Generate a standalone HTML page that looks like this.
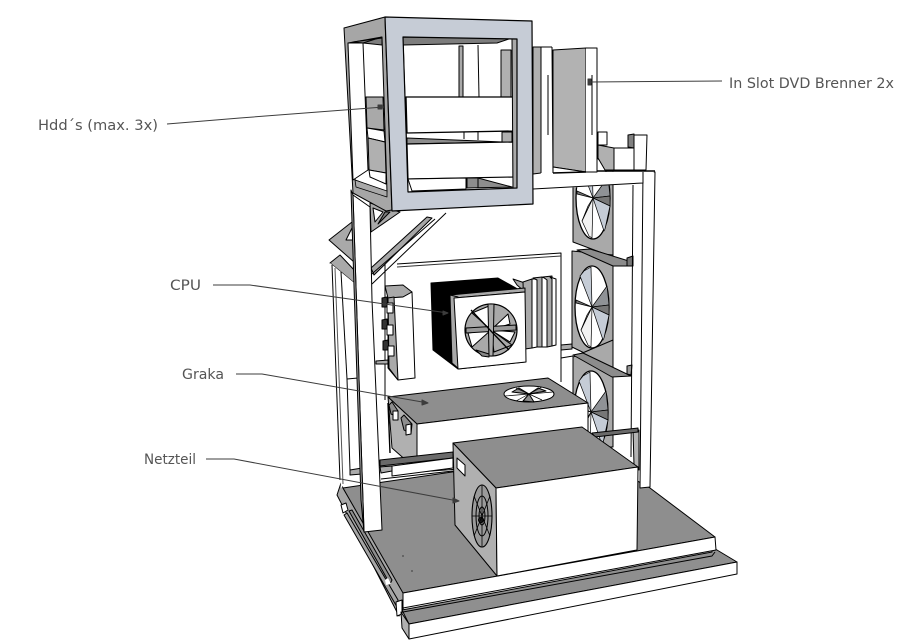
<!DOCTYPE html>
<html><head><meta charset="utf-8"><style>
html,body{margin:0;padding:0;background:#fff}
svg{display:block}
text{font-family:"DejaVu Sans","Liberation Sans",sans-serif;font-size:14px;fill:#555;font-weight:normal}
</style></head><body>
<svg width="911" height="640" viewBox="0 0 911 640" xmlns="http://www.w3.org/2000/svg">
<defs>
<g id="fan" stroke="#000" stroke-width="1" stroke-linejoin="round">
<ellipse cx="0" cy="0" rx="17" ry="41" fill="#fff" stroke-width="1.3"/>
<path d="M0 0L-12 -31L-8 -36L-1 -40Z" fill="#c5ccd6" stroke-width=".7"/>
<path d="M0 0L15 -21L17 -2Z" fill="#8f9296" stroke-width=".7"/>
<path d="M0 0L17 -2L17 8Z" fill="#777" stroke-width=".7"/>
<path d="M0 0L17 8L12 31L11 33Z" fill="#c5ccd6" stroke-width=".7"/>
<path d="M0 0L-11 23L-4 38L-1 40Z" fill="#f2f2f2" stroke-width=".7"/>
<path d="M0 0L-11 23L-5 8Z" fill="#9a9a9a" stroke-width=".7"/>
<path d="M0 0L-16 -7L-16 -4Z" fill="#777" stroke-width=".7"/>
</g>
</defs>
<rect width="911" height="640" fill="#fff"/>

<g stroke="#000" stroke-width="1" stroke-linejoin="round">
<!-- left rail -->
<path d="M337 495L341 483L343 488L404 592L404 607L399 616Z" fill="#a6a6a6"/>
<path d="M344 515L347 513L398 600L397 607Z" fill="#a6a6a6"/>
<path d="M341 505L346 503L348 510L343 513Z" fill="#fff"/>
<path d="M349 511L352 510L392 580L390 584Z" fill="#8e8e8e"/>
<path d="M385 580L388 578L391 584L386 585Z" fill="#fff" stroke="none"/>
<path d="M396 602L402 600L402 614L397 616Z" fill="#fff"/>
<!-- base -->
<path d="M402 610L712 552L712 547L737 562L409 624Z" fill="#8f8f8f"/>
<path d="M401 612L409 624L409 639L402 628Z" fill="#b0b0b0"/>
<path d="M409 624L737 562L737 574L409 639Z" fill="#fff"/>
<path d="M403 612L712 556L715 552" fill="none"/>
<path d="M343 488L452 472L582 450L650 488L715 537L403 593Z" fill="#8e8e8e"/>
<path d="M403 593L715 537L716 550L403 608Z" fill="#fff"/>
<circle cx="403" cy="556" r=".6" fill="#000" stroke="none"/>
<circle cx="412" cy="571" r=".6" fill="#000" stroke="none"/>

<!-- back board -->
<path d="M397 264L561 253L561 382" fill="none"/>
<path d="M397 267L561 256" fill="none" stroke="#333"/>
<path d="M385 258L385 400" fill="none"/>

<!-- fan faces -->
<path d="M573 160L613 160L613 257L573 242Z" fill="#a9a9a9"/>
<path d="M572 251L613 255L613 367L572 347Z" fill="#a9a9a9"/>
<path d="M573 357L613 340L613 447L573 447Z" fill="#a9a9a9"/>
<use href="#fan" transform="translate(593,198)"/>
<use href="#fan" transform="translate(592,307)"/>
<use href="#fan" transform="translate(591,412)"/>
<path d="M577 250L590 249L632 262L632 266L613 266Z" fill="#8c8c8c"/>
<path d="M573 355L583 353L631 376L612 377Z" fill="#8c8c8c"/>
<path d="M627 366L632 365L631 375L627 374Z" fill="#999"/>
<path d="M627 258L633 256L633 266L627 266Z" fill="#777"/>
<path d="M561 345L572 344L572 349L561 350Z" fill="#aaa"/>
<path d="M561 358L573 356" fill="none"/>

<!-- right posts -->
<path d="M643 172L655 172L650 487L640 488Z" fill="#fff"/>
<path d="M633 185L631 457" fill="none"/>
<path d="M633 430L639 430L639 470L634 465Z" fill="#b4b4b4"/>

<!-- right top small parts -->
<path d="M598 132L607 132L607 145L598 145Z" fill="#fff"/>
<path d="M598 145L614 148L614 170L605 170L598 158Z" fill="#b0b0b0"/>
<path d="M614 148L634 148L634 170L614 170Z" fill="#fff"/>
<path d="M628 135L634 134L634 148L628 147Z" fill="#808080"/>
<path d="M634 135L647 135L646 170L634 170Z" fill="#fff"/>

<!-- DVD section -->
<path d="M533 47L541 47L541 173L533 174Z" fill="#b0b0b0"/>
<path d="M553 50L586 48L586 172L553 167Z" fill="#b2b2b2"/>
<path d="M553 167L586 172L553 173Z" fill="#fff"/>
<path d="M533 188L541 173L597 172L655 171L643 183L533 190Z" fill="#fff" stroke="none"/>
<path d="M541 47L552 50L553 173L541 173" fill="#fff" stroke="none"/>
<path d="M541 47L552 47M541 47L541 173M552 47L553 173" fill="none"/>
<path d="M586 48L597 48L597 172L586 172" fill="#fff"/>
<path d="M548 75L548 135M592 75L592 135" fill="none"/>
<path d="M553 173L586 172" fill="none" stroke-width="1.6"/>
<path d="M597 171L655 171" fill="none" stroke-width="1.6"/>
<path d="M533 189L643 183L643 172" fill="none"/>

<!-- brace -->
<path d="M371 268L427 217L432 218L374 275Z" fill="#a6a6a6"/>
<path d="M358 286L435 219" fill="none"/>
<path d="M372 284L446 213" fill="none"/>
<path d="M370 203L400 212L371 232Z" fill="#a9a9a9"/>
<path d="M373 208L383 212L375 222Z" fill="#fff"/>
<path d="M378 224L390 212L385 212Z" fill="#7f7f7f"/>

<!-- roof -->
<path d="M329 240L352 222L354 262Z" fill="#a9a9a9"/>
<path d="M346 240L352 228L353 240Z" fill="#fff"/>
<path d="M330 263L340 255L356 272L358 286Z" fill="#a9a9a9"/>

<!-- left back frame -->
<path d="M330 263L358 286L358 470L341 488Z" fill="#fff" stroke="none"/>
<path d="M332 265L340 480" fill="none"/>
<path d="M335 268L343 484" fill="none" stroke="#555"/>
<path d="M341 272L347 379" fill="none"/>
<path d="M347 379L358 378M347 379L350 470" fill="none"/>
<path d="M350 470L362 468L362 474L350 475Z" fill="#aaa"/>

<!-- left module -->
<path d="M385 286L403 285L412 292L403 297L388 298Z" fill="#a9a9a9"/>
<path d="M388 298L403 297L412 292L415 378L398 380L388 368Z" fill="#fff"/>
<path d="M388 298L394 297L398 380L389 368Z" fill="#a9a9a9"/>
<path d="M382 298L387 297L388 307L382 307Z" fill="#333"/>
<path d="M387 303L393 303L393 313L387 313Z" fill="#fff"/>
<path d="M382 320L387 319L388 329L382 329Z" fill="#333"/>
<path d="M387 325L393 325L393 335L387 335Z" fill="#fff"/>
<path d="M383 341L388 340L389 350L383 350Z" fill="#333"/>
<path d="M388 346L394 346L394 356L388 356Z" fill="#fff"/>
<path d="M376 361L388 360L388 364L376 364Z" fill="#aaa"/>

<!-- heat sink -->
<path d="M513 279L525 283L525 292L517 285Z" fill="#a9a9a9"/>
<path d="M523 282L532 279L532 348L525 349Z" fill="#a9a9a9"/>
<path d="M532 279L537 279L537 347L532 348Z" fill="#fff"/>
<path d="M533 278L542 277L542 347L537 347L537 280Z" fill="#a9a9a9"/>
<path d="M542 277L547 279L547 347L542 347Z" fill="#fff"/>
<path d="M543 277L552 276L552 346L547 347L547 280Z" fill="#a9a9a9"/>
<path d="M550 277L556 279L556 345L552 346L552 279Z" fill="#fff"/>

<!-- CPU -->
<path d="M431 283L498 278L523 292L525 362L458 369L433 350Z" fill="#000"/>
<path d="M450 295L525 288L525 292L454 298Z" fill="#a9a9a9"/>
<path d="M450 295L458 297L459 369L452 363Z" fill="#a9a9a9"/>
<path d="M454 298L525 292L526 362L458 369Z" fill="#fff"/>
<circle cx="491" cy="330" r="26" fill="#a9a9a9" stroke-width="1.2"/>
<path d="M491 330L472 313L489 306Z" fill="#fff"/>
<path d="M491 330L468 333L472 347Z" fill="#fff"/>
<path d="M491 330L512 345L494 352Z" fill="#a9a9a9"/>
<path d="M491 330L508 314L510 324Z" fill="#fff"/>
<path d="M491 330L515 332L510 342Z" fill="#fff"/>
<path d="M466 328L516 325L516 330L466 333Z" fill="#999"/>
<path d="M488 304L494 304L493 356L489 356Z" fill="#aaa"/>
<path d="M471 310L509 350" fill="none" stroke-width="1.3"/>
<path d="M476 350L489 354L489 357L482 356Z" fill="#888"/>

<!-- Graka -->
<path d="M388 397L548 378L588 403L417 424Z" fill="#8e8e8e"/>
<path d="M417 424L588 403L588 460L417 472Z" fill="#fff"/>
<path d="M388 397L417 424L417 470L392 448Z" fill="#b0b0b0"/>
<path d="M389 405L392 402L398 411L398 417L391 414Z" fill="#8e8e8e"/>
<path d="M393 411L398 411L398 420L393 420Z" fill="#fff"/>
<path d="M401 418L404 415L412 424L411 434L404 430Z" fill="#8e8e8e"/>
<path d="M406 425L411 424L411 434L406 435Z" fill="#fff"/>
<path d="M388 403L390 453" fill="none" stroke-width="1.4"/>
<ellipse cx="529" cy="394" rx="25" ry="8" fill="#fff"/>
<path d="M529 394L512 392L519 388ZM529 394L546 391L538 388ZM529 394L523 401L534 402Z" fill="#8e8e8e"/>
<path d="M505 396L553 392M516 388L542 400M542 387L516 401" fill="none" stroke-width=".7"/>

<!-- rails -->
<path d="M380 460L453 452L453 458L380 466Z" fill="#6a6a6a"/>
<path d="M592 433L638 428L638 432L595 437Z" fill="#6a6a6a"/>
<path d="M380 467L392 466L392 471L381 473Z" fill="#aaa"/>
<path d="M392 466L453 458L453 468L392 476Z" fill="#fff"/>
<path d="M381 479L453 471" fill="none"/>

<!-- PSU -->
<path d="M453 443L582 427L638 467L496 488Z" fill="#8e8e8e"/>
<path d="M453 443L496 488L497 576L455 525Z" fill="#b0b0b0"/>
<path d="M496 488L638 467L637 550L497 576Z" fill="#fff"/>
<path d="M457 458L465 465L465 476L457 468Z" fill="#fff"/>
<ellipse cx="482" cy="516" rx="10" ry="31" fill="#9a9a9a" stroke-width="1.1"/>
<ellipse cx="482" cy="516" rx="6" ry="20" fill="none"/>
<ellipse cx="482" cy="516" rx="3" ry="9" fill="none"/>
<circle cx="481" cy="520" r="2.5" fill="#222"/>
<path d="M472 516L492 516M482 485L482 547M474 496L490 536M490 496L474 536" fill="none" stroke-width=".8"/>

<!-- left front column -->
<path d="M353 195L370 207L372 300L382 530L364 532Z" fill="#fff"/>
<path d="M351 190L353 195L364 532L361 500L354 286Z" fill="#a9a9a9"/>

<!-- HDD cage side -->
<path d="M344 28L385 17L392 210L386 211L353 193Z" fill="#a6a6a6"/>
<path d="M348 43L382 37L387 192L355 180Z" fill="#fff"/>
<path d="M353 42L382 38L382 45L363 43Z" fill="#7d7d7d"/>
<path d="M348 43L363 43L368 170L353 180Z" fill="#fff"/>
<path d="M366 97L383 97L384 130L367 128Z" fill="#a9a9a9"/>
<path d="M367 128L384 131L385 142L368 138Z" fill="#fff"/>
<path d="M368 138L385 142L386 173L369 170Z" fill="#b0b0b0"/>
<path d="M369 170L386 173L386 184L370 177Z" fill="#fff"/>
<path d="M355 180L387 191L387 197L356 187Z" fill="#a9a9a9" stroke-width=".8"/>
<path d="M363 43L382 37" fill="none"/>

<!-- cage interior -->
<path d="M403 37L517 39L517 188L408 192Z" fill="#fff"/>
<path d="M403 37L512 38L497 43L403 45Z" fill="#7d7d7d"/>
<path d="M459 46L463 46L463 97L459 97Z" fill="#a9a9a9"/>
<path d="M478 45L479 97" fill="none"/>
<path d="M501 50L511 50L511 97L501 97Z" fill="#b0b0b0"/>
<path d="M502 132L512 132L512 142L502 142Z" fill="#b0b0b0"/>
<path d="M464 132L464 139M478 131L478 140" fill="none"/>
<path d="M406 97L513 97L513 131L407 133Z" fill="#fff" stroke-width="1.3"/>
<path d="M407 138L503 142L407 144Z" fill="#8d8d8d"/>
<path d="M407 144L513 142L513 177L408 179Z" fill="#fff" stroke-width="1.2"/>
<path d="M467 178L478 178L512 187L467 188Z" fill="#8d8d8d"/>
<path d="M408 179L466 178L466 189L412 191Z" fill="#fff"/>
<path d="M478 178L478 188" fill="none"/>
<path d="M512 38L517 39L517 188L513 188Z" fill="#a9a9a9"/>

<!-- cage front -->
<path fill-rule="evenodd" d="M385 17L532 21L533 204L392 211ZM403 37L405 98L408 192L517 188L517 39Z" fill="#c6ccd6" stroke-width="1.2"/>

<!-- leaders -->
<g stroke="#3c3c3c" stroke-width="1" fill="#3c3c3c">
<path d="M167 124L240 118L384 107" fill="none"/>
<path d="M722 81L590 82" fill="none"/>
<path d="M213 285L250 285L448 313" fill="none"/>
<path d="M236 374L262 374L428 403" fill="none"/>
<path d="M206 459L234 459L458 501" fill="none"/>
<path d="M382 105L378 105L378 109L382 109Z"/>
<path d="M588 79L591 79L591 85L588 85Z"/>
<path d="M443 311L448 313L443 315Z"/>
<path d="M422 400L428 403L422 405Z"/>
<path d="M453 498L459 501L453 503Z"/>
</g>
</g>

<text x="38" y="130" textLength="120" lengthAdjust="spacingAndGlyphs">Hdd´s (max. 3x)</text>
<text x="729" y="88" textLength="165" lengthAdjust="spacingAndGlyphs">In Slot DVD Brenner 2x</text>
<text x="170" y="290" textLength="31" lengthAdjust="spacingAndGlyphs">CPU</text>
<text x="182" y="379" textLength="42" lengthAdjust="spacingAndGlyphs">Graka</text>
<text x="144" y="464" textLength="52" lengthAdjust="spacingAndGlyphs">Netzteil</text>
</svg>
</body></html>
